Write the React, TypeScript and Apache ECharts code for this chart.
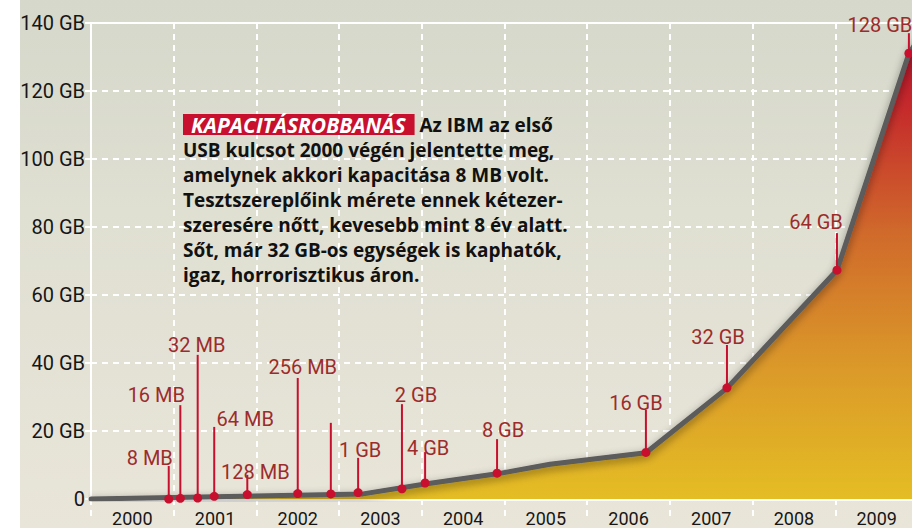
import React, { useEffect, useRef } from "react";
import * as echarts from "echarts";

// ---- data ----
const yearLabels = ["2000", "2001", "2002", "2003", "2004", "2005", "2006", "2007", "2008", "2009"];

// grey capacity curve (year, GB)
const lineYears = [2000, 2003.29, 2004.04, 2004.91, 2005.55, 2006.71, 2007.69, 2009.02, 2009.89, 2010];
const lineGB = [0, 1.5, 4.4, 7.4, 10.2, 13.6, 32.6, 67.3, 131, 135];

// product milestones
const dotYears = [2000.94, 2001.08, 2001.29, 2001.49, 2001.89, 2002.5, 2002.9, 2003.23, 2003.76, 2004.04, 2004.91, 2006.71, 2007.69, 2009.02, 2009.89];
const dotGB = [0.0, 0.2, 0.3, 0.8, 1.3, 1.6, 1.5, 1.9, 3.0, 4.7, 7.6, 13.7, 32.7, 67.3, 131.1];
const dotLabels = ["8 MB", "16 MB", "32 MB", "64 MB", "128 MB", "256 MB", "", "1 GB", "2 GB", "4 GB", "8 GB", "16 GB", "32 GB", "64 GB", "128 GB"];
const stemTopGB = [9.7, 27.6, 42.4, 21.2, 7.1, 35.6, 22.4, 12.1, 27.9, 13.8, 17.6, 26.2, 45.3, 78.2, 137];

// label layout (pixel offsets from the stem top)
const labelDx = [-19, -24, -1, 31, 8, 5, 0, 2, 14, 3, 6, -10, -9, -21, -29];
const labelDy = [-8, -10, -10, -8, -3, -11, 0, -8, -9, -4, -9, -7, -8, -11, -8];

const noteTag = "KAPACITÁSROBBANÁS";
const noteLines = [
  " Az IBM az első",
  "USB kulcsot 2000 végén jelentette meg,",
  "amelynek akkori kapacitása 8 MB volt.",
  "Tesztszereplőink mérete ennek kétezer-",
  "szeresére nőtt, kevesebb mint 8 év alatt.",
  "Sőt, már 32 GB-os egységek is kaphatók,",
  "igaz, horrorisztikus áron.",
];

const FONT = "Roboto, 'Noto Sans', sans-serif";
const NOTE_FONT = "'Open Sans', 'Noto Sans', sans-serif";

export default function App() {
  const ref = useRef<HTMLDivElement>(null);

  useEffect(() => {
    if (!ref.current) return;
    const chart = echarts.init(ref.current, undefined, { renderer: "svg" });

    const lineData = lineYears.map((y, i) => [y, lineGB[i]]);
    const dotData = dotYears.map((y, i) => [y, dotGB[i], stemTopGB[i]]);

    const noteText =
      "{tag|" + noteTag + "}" + noteLines[0] + "\n" + noteLines.slice(1).join("\n");

    chart.setOption({
      animation: false,
      backgroundColor: "transparent",
      grid: { left: 91, top: 23, width: 827, bottom: 29, outerBoundsMode: "none", containLabel: false },
      xAxis: [
        {
          type: "value",
          min: 2000,
          max: 2010,
          interval: 1,
          axisLine: { show: true, lineStyle: { color: "#ffffff", width: 3 } },
          axisTick: { show: true, length: 17, lineStyle: { color: "#ffffff", width: 2, type: [6, 5] } },
          axisLabel: { show: false },
          splitLine: { show: true, lineStyle: { color: "#ffffff", width: 2, type: [6, 5] } },
        },
        {
          type: "category",
          position: "bottom",
          data: yearLabels,
          boundaryGap: true,
          axisLine: { show: false },
          axisTick: { show: false },
          splitLine: { show: false },
          axisLabel: { color: "#161616", fontFamily: FONT, fontSize: 18, margin: 10 },
        },
      ],
      yAxis: {
        type: "value",
        min: 0,
        max: 140,
        interval: 20,
        axisLine: { show: true, lineStyle: { color: "#ffffff", width: 2 } },
        axisTick: { show: true, length: 6, lineStyle: { color: "#ffffff", width: 2 } },
        axisLabel: {
          color: "#161616",
          fontFamily: FONT,
          fontSize: 20,
          margin: 6,
          formatter: (v: number) => (v === 0 ? "0" : v + " GB"),
        },
        splitLine: { show: true, lineStyle: { color: "#ffffff", width: 2, type: [6, 5] } },
      },
      graphic: [
        {
          type: "text",
          x: 183,
          y: 112,
          z: 10,
          style: {
            text: noteText,
            fill: "#111111",
            fontFamily: NOTE_FONT,
            fontWeight: "bold",
            fontSize: 19,
            lineHeight: 25,
            rich: {
              tag: {
                fill: "#ffffff",
                backgroundColor: "#c8102e",
                fontFamily: NOTE_FONT,
                fontStyle: "italic",
                fontWeight: "bold",
                fontSize: 21,
                lineHeight: 21,
                padding: [0, 9, 0, 8],
              },
            },
          },
        },
      ],
      series: [
        {
          type: "line",
          xAxisIndex: 0,
          data: lineData,
          showSymbol: false,
          symbol: "none",
          z: 2,
          lineStyle: {
            color: "#5b5b5b",
            width: 5,
            cap: "round",
            join: "round",
            shadowColor: "rgba(0,0,0,0.45)",
            shadowBlur: 8,
            shadowOffsetY: 3,
          },
          areaStyle: {
            opacity: 1,
            color: new echarts.graphic.LinearGradient(0, 0, 0, 1, [
              { offset: 0, color: "#b40f2b" },
              { offset: 0.15, color: "#c52b2b" },
              { offset: 0.42, color: "#d06a2b" },
              { offset: 0.72, color: "#db9a29" },
              { offset: 1, color: "#e4bd24" },
            ]),
          },
          markLine: {
            silent: true,
            symbol: ["none", "none"],
            label: { show: false },
            lineStyle: { color: "#ffffff", type: "solid", width: 2 },
            data: [{ yAxis: 140 }],
          },
        },
        {
          type: "custom",
          xAxisIndex: 0,
          data: dotData,
          z: 5,
          clip: false,
          renderItem: (params: any, api: any) => {
            const i = params.dataIndex;
            const p = api.coord([api.value(0), api.value(1)]);
            const t = api.coord([api.value(0), api.value(2)]);
            const children: any[] = [
              {
                type: "line",
                shape: { x1: p[0], y1: p[1], x2: t[0], y2: t[1] },
                style: { stroke: "#c8102e", lineWidth: 2 },
              },
              {
                type: "circle",
                shape: { cx: p[0], cy: p[1], r: 4.5 },
                style: { fill: "#c8102e" },
              },
            ];
            if (dotLabels[i]) {
              children.push({
                type: "text",
                x: t[0] + labelDx[i],
                y: t[1] + labelDy[i],
                style: {
                  text: dotLabels[i],
                  fill: "#9c2c2c",
                  fontFamily: FONT,
                  fontSize: 20,
                  align: "center",
                  verticalAlign: "middle",
                },
              });
            }
            return { type: "group", children };
          },
        },
      ],
    });

    return () => chart.dispose();
  }, []);

  return (
    <div style={{ position: "fixed", left: 0, top: 0, width: 912, height: 528, background: "#ffffff", overflow: "hidden" }}>
      <div
        style={{
          position: "absolute",
          left: 20,
          top: 0,
          width: 892,
          height: 528,
          background: "linear-gradient(to bottom, #d5d8ca 0%, #dfdfd2 40%, #e9e5d9 100%)",
        }}
      />
      <div ref={ref} style={{ position: "absolute", left: 0, top: 0, width: 912, height: 528 }} />
    </div>
  );
}
